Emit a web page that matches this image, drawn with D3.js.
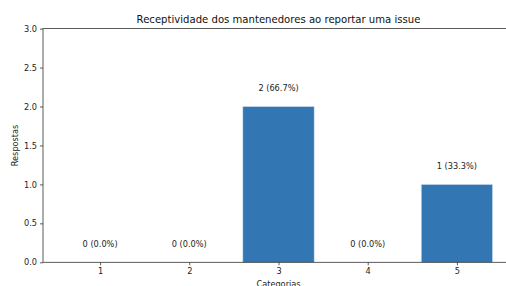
<!DOCTYPE html>
<html lang="pt">
<head>
<meta charset="utf-8" />
<title>Receptividade dos mantenedores</title>
<style>
html, body { margin: 0; padding: 0; background: #fff; }
svg { display: block; font-family: "DejaVu Sans", sans-serif; }
</style>
</head>
<body>
<svg width="506" height="286"></svg>
<script src="https://cdn.jsdelivr.net/npm/d3@7/dist/d3.min.js"></script>
<script>
// dados
var categorias = ["1", "2", "3", "4", "5"];
var respostas = [0, 0, 2, 0, 1];
var rotulos = ["0 (0.0%)", "0 (0.0%)", "2 (66.7%)", "0 (0.0%)", "1 (33.3%)"];
var yTicks = [0, 0.5, 1, 1.5, 2, 2.5, 3];

var svg = d3.select("svg");
var mLeft = 43, mRight = 514, mTop = 28.6, mBottom = 262.3;

// posições das barras em índice, como no matplotlib (largura 0.8, margem 5%)
var x = d3.scaleLinear().domain([-0.64, 4.64]).range([mLeft, mRight]);
var y = d3.scaleLinear().domain([0, 3]).range([mBottom, mTop]);
var bw = x(0.8) - x(0);

svg.append("g").selectAll("rect")
	.data(respostas)
	.enter().append("rect")
	.attr("x", function(d, i){ return x(i - 0.4); })
	.attr("width", bw)
	.attr("y", function(d){ return y(d); })
	.attr("height", function(d){ return y(0) - y(d); })
	.attr("fill", "#3276b3")
	.attr("stroke", "#d6e3ef")
	.attr("stroke-width", 0.6);

// rótulos em cima das barras
svg.append("g").selectAll("text")
	.data(respostas)
	.enter().append("text")
	.attr("x", function(d, i){ return x(i); })
	.attr("y", function(d){ return y(d + 0.2); })
	.attr("text-anchor", "middle")
	.attr("font-size", "8.2px")
	.attr("fill", "#222")
	.text(function(d, i){ return rotulos[i]; });

// eixos
var yAxis = d3.axisLeft(y).tickValues(yTicks).tickSize(3).tickPadding(3)
	.tickFormat(d3.format(".1f"));
var xAxis = d3.axisBottom(x).tickValues([0, 1, 2, 3, 4]).tickSize(3).tickPadding(3)
	.tickFormat(function(d){ return categorias[d]; });

var gy = svg.append("g").attr("transform", "translate(" + mLeft + ",0)").call(yAxis);
var gx = svg.append("g").attr("transform", "translate(0," + mBottom + ")").call(xAxis);
[gy, gx].forEach(function(g){
	g.select(".domain").remove();
	g.selectAll("line").attr("stroke", "#333").attr("stroke-width", 0.8);
	g.selectAll("text").attr("font-size", "8.2px").attr("fill", "#222")
		.attr("font-family", "DejaVu Sans");
});

// moldura
svg.append("rect")
	.attr("x", mLeft).attr("y", mTop)
	.attr("width", mRight - mLeft).attr("height", mBottom - mTop)
	.attr("fill", "none").attr("stroke", "#333").attr("stroke-width", 0.8);

svg.append("text")
	.attr("x", (mLeft + mRight) / 2).attr("y", 23)
	.attr("text-anchor", "middle").attr("font-size", "10.1px").attr("fill", "#111")
	.text("Receptividade dos mantenedores ao reportar uma issue");

svg.append("text")
	.attr("transform", "translate(18," + ((mTop + mBottom) / 2) + ") rotate(-90)")
	.attr("text-anchor", "middle").attr("font-size", "8.2px").attr("fill", "#222")
	.text("Respostas");

svg.append("text")
	.attr("x", (mLeft + mRight) / 2).attr("y", 287)
	.attr("text-anchor", "middle").attr("font-size", "8.2px").attr("fill", "#222")
	.text("Categorias");
</script>
</body>
</html>
